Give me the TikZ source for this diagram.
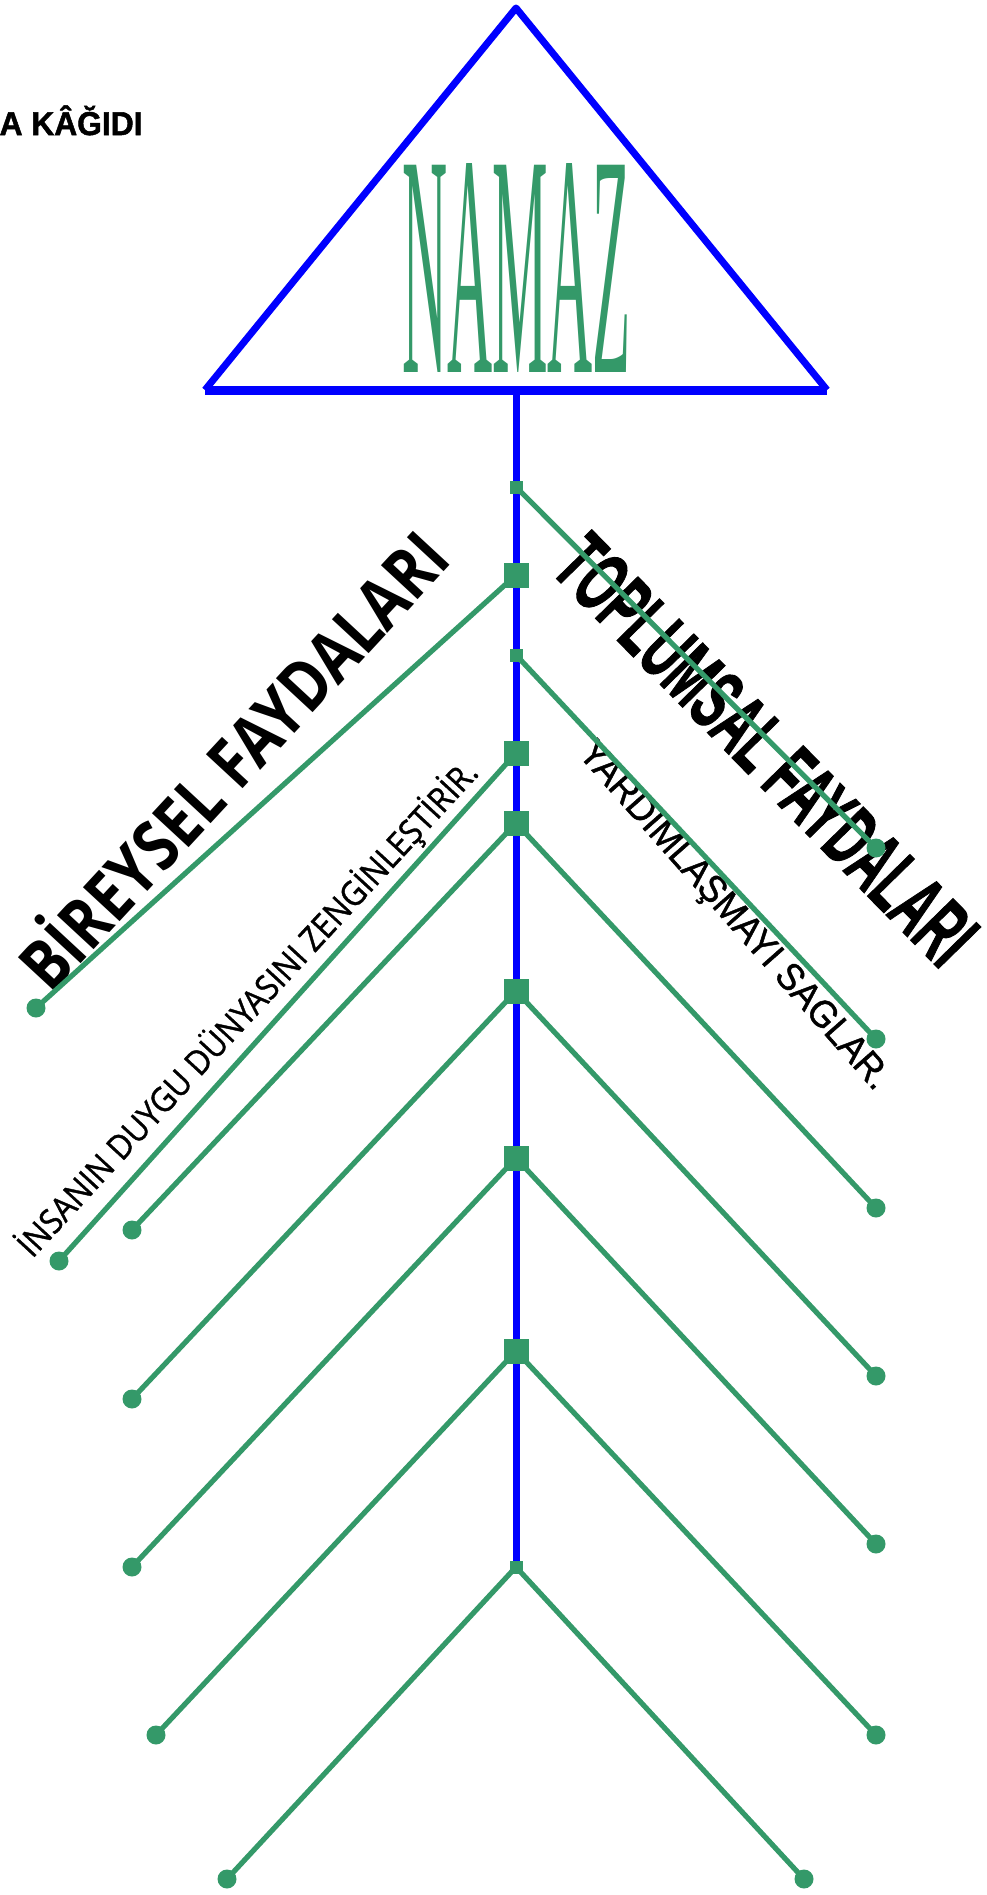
\documentclass[tikz,border=0pt]{standalone}
\usepackage{fontspec}
\usepackage{graphicx}
\usepackage{tikz}
\newfontfamily\opensans{Open Sans}
\newfontfamily\opensansmid[FakeBold=1.2]{Open Sans}
\newfontfamily\libsans{Liberation Sans}
\newfontfamily\libsansmid[FakeBold=1.2]{Liberation Sans}
\newfontfamily\libsansheavy[FakeBold=1.5]{Liberation Sans Bold}
\newfontfamily\libserif{Liberation Serif}
\definecolor{namazblue}{RGB}{0,0,255}
\definecolor{namazgreen}{RGB}{52,153,105}
\tikzset{
  branch/.style={draw=namazgreen, line width=2.6pt},
  bigsq/.style={fill=namazgreen, minimum size=12.5pt, inner sep=0pt},
  smallsq/.style={fill=namazgreen, minimum size=6.5pt, inner sep=0pt},
  enddot/.style={circle, fill=namazgreen, minimum size=9.5pt, inner sep=0pt},
  slanted/.style={inner sep=0pt, anchor=center},
}

\begin{document}
\begin{tikzpicture}[x=0.5pt, y=-0.5pt]
  \useasboundingbox (0,0) rectangle (986,1895);
  % remnant of the sheet title
  \node[anchor=base east, inner sep=0pt] (title) at (143,135)
    {\resizebox{71.5pt}{\height}{\libsansheavy\fontsize{16.5pt}{16.5pt}\selectfont A KÂĞIDI}};
  % triangle head
  \coordinate (apex) at (516,8);
  \coordinate (baseL) at (205,390);
  \coordinate (baseR) at (827,390);
  \coordinate (baseM) at (516,390);
  \draw[namazblue, line width=3.5pt, line join=round] (baseL) -- (apex) -- (baseR);
  \draw[namazblue, line width=4.5pt] (baseL) -- (baseR);
  \node[inner sep=0pt, text=namazgreen] (namaz) at (516.5,267.5)
    {\resizebox{114.5pt}{104.5pt}{\libserif NAMAZ}};
  % slanted labels
  \node[slanted, rotate=47.2] (bireysel) at (229,757)
    {\resizebox{296pt}{\height}{\opensans\bfseries\fontsize{35pt}{35pt}\selectfont BİREYSEL FAYDALARI}};
  \node[slanted, rotate=47.3] (duygu) at (248,1009)
    {\resizebox{330pt}{\height}{\opensansmid\fontsize{17pt}{17pt}\selectfont İNSANIN DUYGU DÜNYASINI ZENGİNLEŞTİRİR.}};
  \node[slanted, rotate=-45.6] (toplumsal) at (766,750)
    {\resizebox{280pt}{\height}{\libsansheavy\fontsize{43pt}{43pt}\selectfont TOPLUMSAL FAYDALARI}};
  \node[slanted, rotate=-48.6] (yardim) at (733,917)
    {\resizebox{225pt}{\height}{\libsansmid\fontsize{19pt}{19pt}\selectfont YARDIMLAŞMAYI SAGLAR.}};
  % spine
  \coordinate (tail) at (516,1567);
  \draw[namazblue, line width=3.5pt] (baseM) -- (tail);
  % joints on the spine
  \node[smallsq] (s1) at (516,487) {};
  \node[bigsq] (s2) at (516,575) {};
  \node[smallsq] (s3) at (516,655) {};
  \node[bigsq] (s4) at (516,753) {};
  \node[bigsq] (s5) at (516,823) {};
  \node[bigsq] (s6) at (516,991) {};
  \node[bigsq] (s7) at (516,1158) {};
  \node[bigsq] (s8) at (516,1351) {};
  \node[smallsq] (s9) at (516,1567) {};
  % branch ends
  \node[enddot] (l1) at (36,1008) {};
  \node[enddot] (l2) at (59,1261) {};
  \node[enddot] (l3) at (132,1230) {};
  \node[enddot] (l4) at (132,1399) {};
  \node[enddot] (l5) at (132,1567) {};
  \node[enddot] (l6) at (156,1735) {};
  \node[enddot] (l7) at (227,1879) {};
  \node[enddot] (r1) at (876,848) {};
  \node[enddot] (r2) at (876,1039) {};
  \node[enddot] (r3) at (876,1208) {};
  \node[enddot] (r4) at (876,1376) {};
  \node[enddot] (r5) at (876,1544) {};
  \node[enddot] (r6) at (876,1735) {};
  \node[enddot] (r7) at (804,1879) {};
  % left branches
  \draw[branch] (s2.center) -- (l1.center);
  \draw[branch] (s4.center) -- (l2.center);
  \draw[branch] (s5.center) -- (l3.center);
  \draw[branch] (s6.center) -- (l4.center);
  \draw[branch] (s7.center) -- (l5.center);
  \draw[branch] (s8.center) -- (l6.center);
  \draw[branch] (s9.center) -- (l7.center);
  % right branches
  \draw[branch] (s1.center) -- (r1.center);
  \draw[branch] (s3.center) -- (r2.center);
  \draw[branch] (s5.center) -- (r3.center);
  \draw[branch] (s6.center) -- (r4.center);
  \draw[branch] (s7.center) -- (r5.center);
  \draw[branch] (s8.center) -- (r6.center);
  \draw[branch] (s9.center) -- (r7.center);
\end{tikzpicture}
\end{document}
